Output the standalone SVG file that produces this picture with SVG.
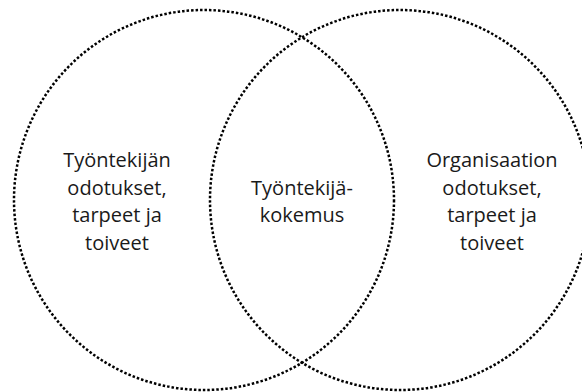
<svg xmlns="http://www.w3.org/2000/svg" width="582" height="392" viewBox="0 0 582 392">
<style>
.c{fill:none;stroke:#000;stroke-width:2.5;stroke-dasharray:2.5 2}
.t{font-family:"Open Sans","Noto Sans",sans-serif;font-size:20px;fill:#1a1a1a;text-anchor:middle}
</style>
<rect width="582" height="392" fill="#fff"/>
<g id="connectors"></g>
<g id="left">
<circle class="c" cx="204" cy="200" r="190"/>
<text class="t" x="117" y="167">Työntekijän</text>
<text class="t" x="117" y="194.5">odotukset,</text>
<text class="t" x="117" y="222">tarpeet ja</text>
<text class="t" x="117" y="249.5">toiveet</text>
</g>
<g id="right">
<circle class="c" cx="400" cy="200" r="190"/>
<text class="t" x="492" y="167">Organisaation</text>
<text class="t" x="492" y="194.5">odotukset,</text>
<text class="t" x="492" y="222">tarpeet ja</text>
<text class="t" x="492" y="249.5">toiveet</text>
</g>
<g id="center">
<text class="t" x="302" y="194.5">Työntekijä-</text>
<text class="t" x="302" y="222">kokemus</text>
</g>
</svg>
